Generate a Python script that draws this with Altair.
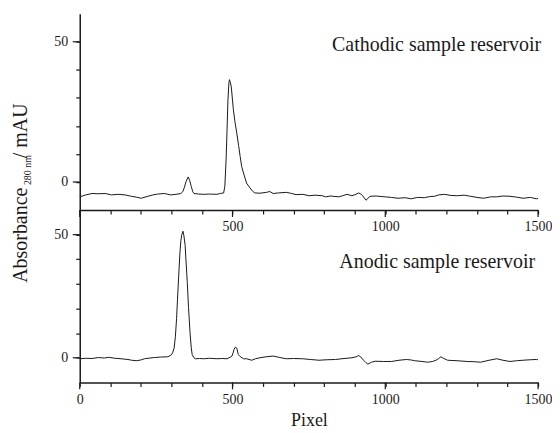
import altair as alt
import pandas as pd

# ---- data ----
top_x = [0, 20, 40, 60, 83, 104, 125, 148, 169, 185, 201, 223, 240, 255, 277, 298, 315, 331,
         337, 342, 348, 355, 360, 365, 370, 374, 390, 406, 425, 449, 460, 471, 475, 479, 482,
         485, 488, 490, 493, 496, 503, 508, 514, 520, 525, 530, 536, 546, 557, 565, 573, 590,
         611, 622, 633, 650, 676, 690, 708, 730, 751, 770, 794, 805, 820, 848, 860, 875, 891,
         902, 913, 920, 926, 937, 950, 970, 999, 1020, 1042, 1065, 1085, 1105, 1128, 1145,
         1161, 1175, 1193, 1215, 1236, 1258, 1279, 1300, 1322, 1345, 1365, 1385, 1408, 1430,
         1451, 1475, 1495, 1500]
top_y = [-5.3, -4.6, -4.1, -4.2, -4.1, -4.6, -4.4, -4.6, -5.1, -5.4, -5.8, -5.1, -4.6, -4.3,
         -4.1, -4.6, -4.4, -4.1, -3.5, -2.1, 0.2, 1.8, 0.5, -1.6, -3.5, -4.1, -4.3, -4.4, -4.3,
         -4.4, -4.1, -3.9, -1.5, 7.9, 18.0, 29.2, 35.0, 36.5, 35.5, 33.9, 25.6, 21.5, 17.4,
         13.0, 9.1, 5.5, 3.2, -0.4, -2.1, -3.2, -3.9, -4.0, -3.7, -3.4, -4.1, -3.9, -3.7, -4.0,
         -4.5, -4.4, -4.9, -4.7, -4.9, -5.3, -5.0, -5.3, -4.9, -4.4, -4.9, -4.5, -3.9, -4.3,
         -4.9, -6.5, -5.1, -5.0, -5.3, -5.5, -5.8, -5.6, -6.0, -5.5, -5.6, -5.2, -5.1, -4.6,
         -4.4, -4.8, -4.9, -4.7, -5.1, -5.5, -5.8, -5.3, -5.3, -5.0, -5.1, -5.4, -5.8, -5.5,
         -6.0, -5.8]

bot_x = [0, 20, 40, 61, 80, 95, 115, 135, 158, 170, 185, 200, 212, 230, 245, 265, 288, 298,
         304, 309, 313, 317, 320, 324, 328, 331, 334, 338, 341, 345, 348, 352, 356, 361, 365,
         368, 374, 379, 392, 406, 425, 449, 465, 482, 492, 498, 502, 505, 509, 514, 519, 525,
         536, 546, 563, 575, 590, 610, 633, 655, 676, 700, 729, 755, 783, 810, 837, 865, 891,
         905, 913, 920, 929, 937, 943, 955, 967, 995, 1021, 1045, 1069, 1085, 1096, 1120,
         1139, 1155, 1166, 1175, 1182, 1190, 1204, 1235, 1268, 1290, 1312, 1340, 1365, 1385,
         1408, 1430, 1451, 1475, 1495, 1500]
bot_y = [-0.4, -0.2, -0.3, 0.1, -0.1, 0.2, -0.2, -0.4, -0.7, -1.0, -1.2, -0.9, -0.4, -0.1,
         0.1, 0.3, 0.4, 1.0, 2.0, 4.0, 8.5, 16.0, 23.8, 33.5, 42.9, 47.5, 50.0, 51.4, 49.5,
         45.6, 39.0, 30.6, 20.5, 10.2, 4.0, 1.3, 0.0, -0.4, -0.3, -0.4, -0.2, -0.4, -0.3,
         -0.4, 0.2, 0.7, 2.0, 3.4, 4.3, 3.9, 1.3, 0.5, -0.4, -0.4, -1.0, -0.4, 0.0, 0.4, 0.7,
         0.1, -0.4, -0.3, -0.4, -0.7, -1.0, -0.8, -0.7, -0.3, 0.0, 0.4, 0.9, 0.3, -1.0, -2.0,
         -2.6, -1.8, -1.4, -1.5, -1.5, -1.0, -0.7, -0.9, -1.2, -1.5, -1.8, -1.5, -1.0, -0.3,
         0.4, -0.2, -1.0, -1.2, -1.5, -1.6, -1.8, -1.0, -0.4, -1.0, -1.5, -1.2, -1.0, -0.8,
         -0.7, -0.8]

x_ticks = list(range(0, 1501, 100))
x_major = [0, 500, 1000, 1500]
y_ticks = [0, 10, 20, 30, 40, 50]
y_major = [0, 50]
x_domain = [0, 1500]
y_domain = [-10, 60]

panel_labels = ["Cathodic sample reservoir", "Anodic sample reservoir"]
y_title_parts = ["Absorbance", "280 nm", "/ mAU"]
x_title = "Pixel"

FONT = "Liberation Serif"
INK = "#1a1a1a"
W = 460

X_SCALE = alt.Scale(domain=x_domain, nice=False, zero=False)
Y_SCALE = alt.Scale(domain=y_domain, nice=False, zero=False)

Y_AXIS = alt.Axis(values=y_ticks, title=None, grid=False, format="d",
                  labelExpr="datum.value % 50 === 0 ? datum.label : ''",
                  tickSize=4, labelPadding=8, labelOverlap=False,
                  labelFont=FONT, labelFontSize=14, labelColor=INK,
                  domainColor=INK, domainWidth=1.5, tickColor=INK, tickWidth=1.2)


def make_x_axis(show_zero, title):
    expr = ("datum.value % 500 === 0 ? datum.label : ''" if show_zero
            else "datum.value % 500 === 0 && datum.value > 0 ? datum.label : ''")
    kw = dict(
        values=x_ticks, labelExpr=expr, format="d", tickSize=4, grid=False,
        labelOverlap=False, labelFlush=False, labelPadding=6,
        labelFont=FONT, labelFontSize=14, labelColor=INK,
        domainColor=INK, domainWidth=1.5, tickColor=INK, tickWidth=1.2,
    )
    if title:
        kw.update(title=title, titleFont=FONT, titleFontSize=18,
                  titleFontWeight="normal", titleColor=INK, titlePadding=5)
    else:
        kw.update(title=None)
    return alt.Axis(**kw)


def panel(xs, ys, label, label_x, label_y, show_zero, title, height, extra=None):
    x_axis = make_x_axis(show_zero, title)
    df = pd.DataFrame({"x": xs, "y": ys})
    line = alt.Chart(df).mark_line(color=INK, strokeWidth=1).encode(
        x=alt.X("x:Q", scale=X_SCALE, axis=x_axis),
        y=alt.Y("y:Q", scale=Y_SCALE, axis=Y_AXIS),
    )
    # longer major ticks
    xmaj = alt.Chart(pd.DataFrame({"x": x_major})).mark_rule(
        color=INK, strokeWidth=1.2
    ).encode(x=alt.X("x:Q", scale=X_SCALE, axis=x_axis),
             y=alt.value(height), y2=alt.value(height + 7))
    ymaj = alt.Chart(pd.DataFrame({"y": y_major})).mark_rule(
        color=INK, strokeWidth=1.2
    ).encode(y=alt.Y("y:Q", scale=Y_SCALE, axis=Y_AXIS),
             x=alt.value(0), x2=alt.value(-7))
    txt = alt.Chart(pd.DataFrame({"t": [label]})).mark_text(
        font=FONT, fontSize=20, color=INK, align="right", baseline="middle"
    ).encode(x=alt.value(label_x), y=alt.value(label_y), text="t:N")
    layers = [line, xmaj, ymaj, txt]
    if extra is not None:
        layers += extra
    return alt.layer(*layers).properties(width=W, height=height)


ytitle_df = pd.DataFrame({"t": y_title_parts})
yt_main = alt.Chart(ytitle_df.iloc[[0]]).mark_text(
    font=FONT, fontSize=20, color=INK, angle=270, align="left", baseline="middle"
).encode(x=alt.value(-59), y=alt.value(270), text="t:N")
yt_sub = alt.Chart(ytitle_df.iloc[[1]]).mark_text(
    font=FONT, fontSize=10, color=INK, angle=270, align="left", baseline="middle"
).encode(x=alt.value(-52), y=alt.value(172), text="t:N")
yt_end = alt.Chart(ytitle_df.iloc[[2]]).mark_text(
    font=FONT, fontSize=20, color=INK, angle=270, align="left", baseline="middle"
).encode(x=alt.value(-59), y=alt.value(145), text="t:N")

top = panel(top_x, top_y, panel_labels[0], 463, 31, False, None, 197,
            extra=[yt_main, yt_sub, yt_end])
bot = panel(bot_x, bot_y, panel_labels[1], 457, 52, True, x_title, 173)

chart = alt.vconcat(top, bot, spacing=0, bounds="flush").configure_view(
    stroke=None
).properties(
    background="white",
    padding={"left": 3, "top": 5, "right": 0, "bottom": 0},
)

chart.save("out.html", embed_options={"renderer": "svg", "actions": False})
